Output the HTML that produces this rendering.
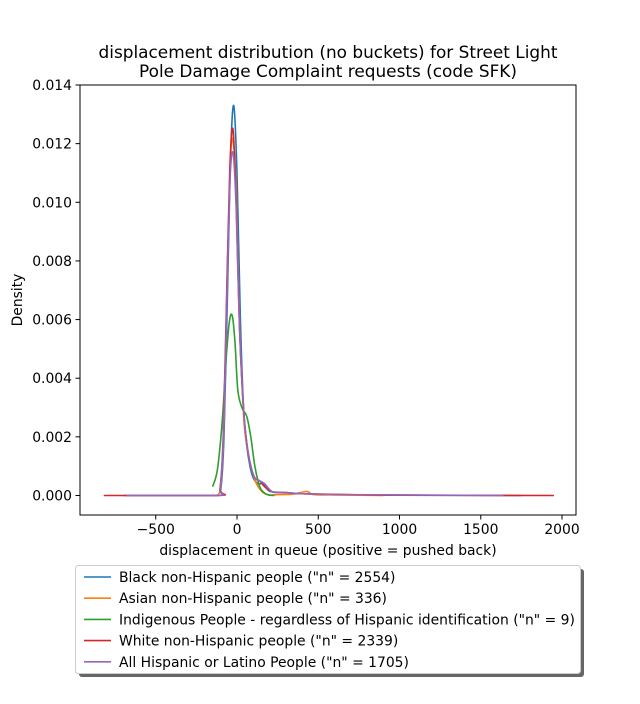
<!DOCTYPE html>
<html><head><meta charset="utf-8"><style>
body{margin:0;background:#fff;font-family:"DejaVu Sans","Liberation Sans",sans-serif}
svg text{font-family:"DejaVu Sans","Liberation Sans",sans-serif;fill:#000}
</style></head><body>
<svg id="chart" width="640" height="700" xmlns="http://www.w3.org/2000/svg">
<rect width="640" height="700" fill="#fff"/>
<text x="328" y="58" font-size="16.9" text-anchor="middle">displacement distribution (no buckets)  for Street Light</text>
<text x="328" y="77" font-size="16.9" text-anchor="middle">Pole Damage Complaint requests (code SFK)</text>
<g id="axes"></g>
<g id="lines"></g>
<rect x="80" y="85" width="496" height="430" fill="none" stroke="#000" stroke-width="1"/>
<text x="328" y="555" font-size="13.9" text-anchor="middle">displacement in queue (positive = pushed back)</text>
<text x="22" y="300" font-size="13.9" text-anchor="middle" transform="rotate(-90 22 300)">Density</text>
<g id="legend"></g>
</svg>
<script>
const xTicks=[-500,0,500,1000,1500,2000];
const yTicks=[0,0.002,0.004,0.006,0.008,0.010,0.012,0.014];
const seriesNames=['Black non-Hispanic people ("n" = 2554)','Asian non-Hispanic people ("n" = 336)','Indigenous People - regardless of Hispanic identification ("n" = 9)','White non-Hispanic people ("n" = 2339)','All Hispanic or Latino People ("n" = 1705)'];
const colors=['#1f77b4','#ff7f0e','#2ca02c','#d62728','#9467bd'];
const blackX=[-700,-130,-100,-80,-60,-40,-20,0,20,40,60,80,100,130,160,200,280,400,600,1000,1750];
const blackY=[0,0,0.0002,0.002,0.0065,0.0115,0.0133,0.011,0.0062,0.003,0.0017,0.001,0.0006,0.0004,0.0004,0.00015,0.0001,0.00006,0.00003,0.00001,0];
const asianX=[-120,-100,-80,-60,-40,-25,-5,15,40,60,90,120,160,200,260,350,430,470,600,900];
const asianY=[0,0.0003,0.0025,0.0075,0.0115,0.0121,0.0105,0.006,0.0028,0.0017,0.0009,0.0004,0.0001,0.00002,0.00003,0.00005,0.00014,0.00003,0.00002,0];
const indigX=[-150,-120,-90,-65,-45,-28,-12,5,30,60,85,110,140,170,200,230];
const indigY=[0.0003,0.0009,0.0026,0.0048,0.006,0.0061,0.0052,0.0036,0.003,0.0027,0.002,0.001,0.0003,0.00008,0.00001,0];
const whiteX=[-820,-130,-105,-85,-65,-45,-25,-5,15,40,60,85,110,140,170,220,300,400,700,1000,1950];
const whiteY=[0,0,0.0002,0.002,0.0065,0.011,0.0125,0.01,0.0058,0.003,0.0018,0.001,0.0006,0.0005,0.0003,0.00012,0.0001,0.00006,0.00003,0.00001,0];
const hispX=[-680,-130,-105,-85,-65,-45,-25,-5,15,40,60,85,110,140,170,220,300,400,700,1640];
const hispY=[0,0,0.0002,0.0018,0.006,0.0105,0.0117,0.0098,0.0058,0.003,0.0018,0.001,0.0006,0.0005,0.0004,0.00012,0.0001,0.00006,0.00003,0];
const allX=[blackX,asianX,indigX,whiteX,hispX];
const allY=[blackY,asianY,indigY,whiteY,hispY];
const order=[0,1,2,3,4];
const NS='http://www.w3.org/2000/svg';
const xMin=-966,xMax=2086,yMin=-0.000665,yMax=0.014;
const sx=v=>80+(v-xMin)/(xMax-xMin)*496;
const sy=v=>515-(v-yMin)/(yMax-yMin)*430;
function mk(t,a,p){const e=document.createElementNS(NS,t);for(const k in a)e.setAttribute(k,a[k]);p.appendChild(e);return e;}
const axes=document.getElementById('axes');
xTicks.forEach(t=>{
 const l=mk('line',{x1:sx(t),x2:sx(t),y1:515,y2:519.5,stroke:'#000'},axes);
 
 
 const s=mk('text',{x:sx(t),y:534,'font-size':13.9,'text-anchor':'middle'},axes);
 s.textContent=t<0?'\u2212'+(-t):t;
 
 
});
yTicks.forEach(t=>{
 const l=mk('line',{x1:75.5,x2:80,y1:sy(t),y2:sy(t),stroke:'#000'},axes);
 
 
 const s=mk('text',{x:72,y:sy(t)+5,'font-size':13.9,'text-anchor':'end'},axes);
 s.textContent=t.toFixed(3);
 
 
});
function path(xs,ys){
 const p=xs.map((x,i)=>[sx(x),sy(ys[i])]);
 let d='M'+p[0][0]+','+p[0][1];
 for(let i=0;i<p.length-1;i++){
  const p0=p[Math.max(0,i-1)],p1=p[i],p2=p[i+1],p3=p[Math.min(p.length-1,i+2)];
  let c1y=p1[1]+(p2[1]-p0[1])/6,c2y=p2[1]-(p3[1]-p1[1])/6;
  c1y=Math.min(c1y,sy(0));c2y=Math.min(c2y,sy(0));
  d+=` C${p1[0]+(p2[0]-p0[0])/6},${c1y} ${p2[0]-(p3[0]-p1[0])/6},${c2y} ${p2[0]},${p2[1]}`;
 }
 return d;
}
const lines=document.getElementById('lines');
order.forEach(i=>{
 const e=mk('path',{d:path(allX[i],allY[i]),fill:'none',stroke:colors[i],'stroke-width':1.6,'stroke-linejoin':'round'},lines);
 
 
});
const lg=document.getElementById('legend');
const sh=mk('rect',{x:79,y:569,width:505,height:108,rx:3,fill:'#666'},lg);


const bx=mk('rect',{x:75.5,y:565.5,width:505,height:108,rx:3,fill:'#fff',stroke:'#ccc'},lg);


seriesNames.forEach((n,i)=>{
 const y=577+i*21.2;
 const l=mk('line',{x1:84,x2:111,y1:y,y2:y,stroke:colors[i],'stroke-width':1.6},lg);
 
 
 const t=mk('text',{x:119,y:y+5,'font-size':13.9},lg);
 t.textContent=n;
 
 
});
</script>
</body></html>
